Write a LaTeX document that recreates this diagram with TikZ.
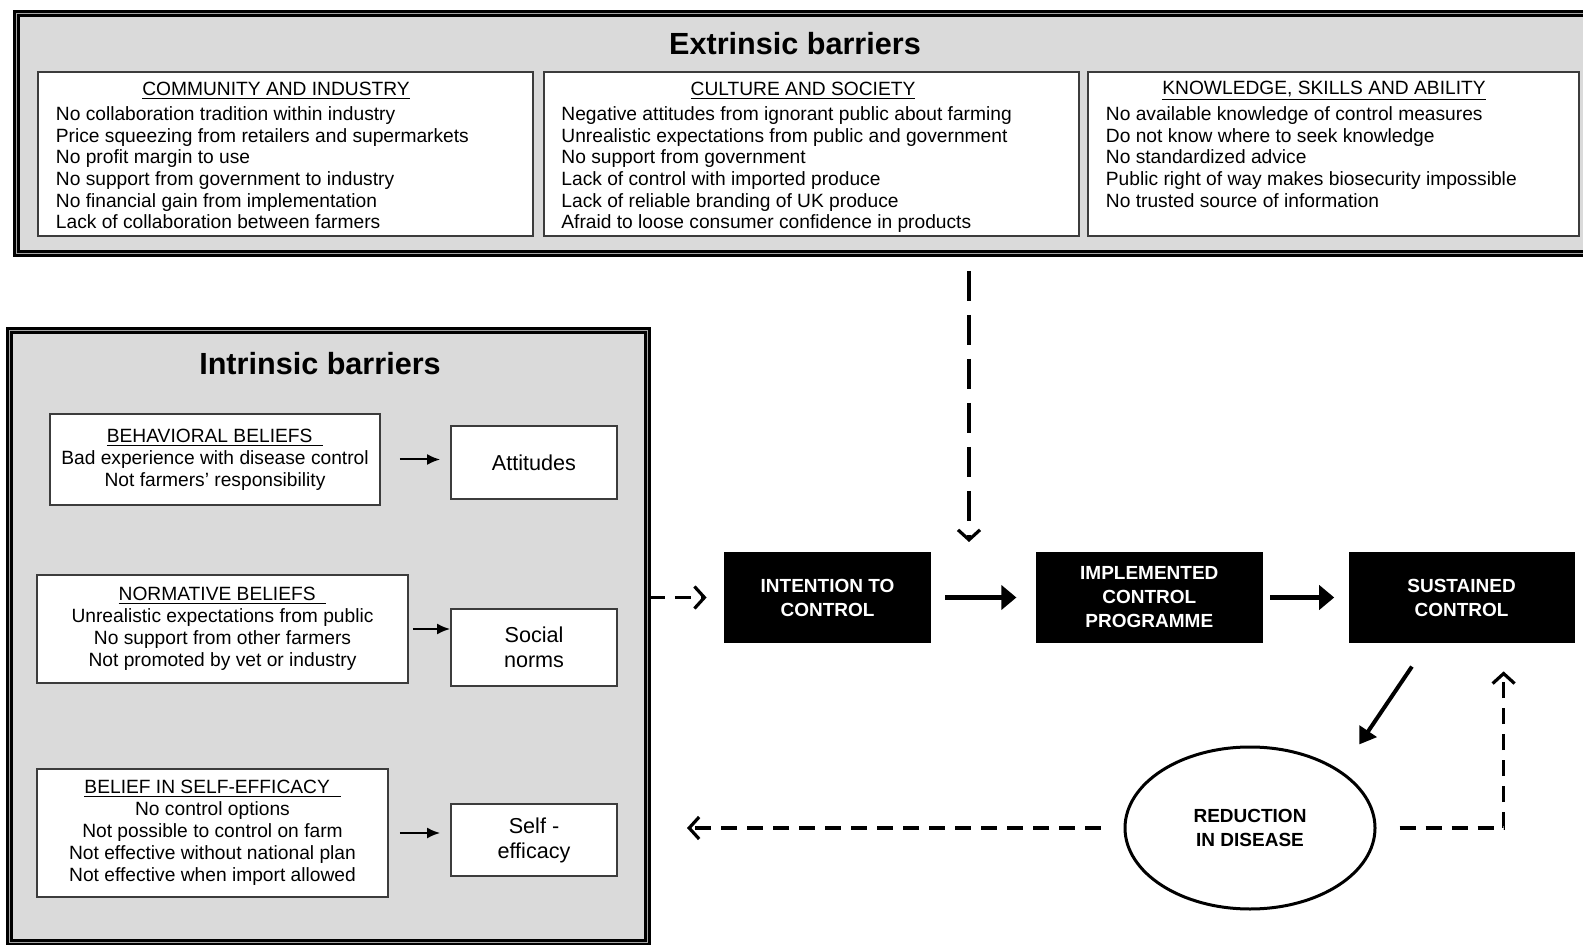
\documentclass[tikz,border=0pt]{standalone}
\usepackage{fontspec}
\setmainfont{Liberation Sans}
\usetikzlibrary{arrows.meta,positioning,shapes.geometric}
\definecolor{panelgray}{HTML}{DADADA}
\definecolor{boxline}{HTML}{3C3C3C}

\begin{document}
\begin{tikzpicture}[
  x=0.5pt, y=-0.5pt,
  panel/.style={draw=black, line width=1.4pt, double=gray!70, double distance=0.6pt, fill=panelgray, anchor=north west, inner sep=0pt},
  ttl/.style={font=\fontsize{15.3}{18}\selectfont\bfseries, inner sep=0pt},
  listbox/.style={draw=boxline, line width=0.9pt, fill=white, anchor=north west, inner sep=0pt},
  hdr/.style={font=\fontsize{9.6}{11}\selectfont, inner sep=0pt},
  listtxt/.style={font=\fontsize{9.6}{10.85}\selectfont, align=left, anchor=north west, inner sep=0pt},
  belief/.style={draw=boxline, line width=0.9pt, fill=white, align=center, font=\fontsize{9.6}{11}\selectfont, inner sep=0pt},
  result/.style={draw=boxline, line width=0.9pt, fill=white, align=center, font=\fontsize{10.8}{12.5}\selectfont, minimum width=83pt, inner sep=0pt},
  stage/.style={fill=black, text=white, align=center, font=\fontsize{9.5}{12}\selectfont\bfseries, minimum height=45.5pt, inner sep=0pt},
  smallarr/.style={line width=1pt, -{Latex[length=6.5pt,width=5.5pt]}},
  bigarr/.style={line width=2.6pt, -{Triangle[length=7.5pt,width=12pt]}},
  dasharr/.style={line width=1.7pt, dash pattern=on 8pt off 5pt, -{Straight Barb[length=5pt,width=11pt,line width=1.6pt]}}
]
\clip (0,0) rectangle (1583,945);
\fill[white] (0,0) rectangle (1583,945);

\node[panel, minimum width=800pt, minimum height=120pt] (extr) at (15,12) {};
\node[ttl] (extrttl) at (795,44) {Extrinsic barriers};

\node[listbox, minimum width=247.5pt, minimum height=82pt] (comm) at (37,71) {};
\node[hdr] (commhd) at (276,91) {\underline{COMMUNITY AND INDUSTRY}};
\node[listtxt] (commls) at (55.5,106) {No collaboration tradition within industry\\Price squeezing from retailers and supermarkets\\No profit margin to use\\No support from government to industry\\No financial gain from implementation\\Lack of collaboration between farmers};

\node[listbox, minimum width=267.5pt, minimum height=82pt] (cult) at (543,71) {};
\node[hdr] (culthd) at (803,91) {\underline{CULTURE AND SOCIETY}};
\node[listtxt] (cultls) at (561,106) {Negative attitudes from ignorant public about farming\\Unrealistic expectations from public and government\\No support from government\\Lack of control with imported produce\\Lack of reliable branding of UK produce\\Afraid to loose consumer confidence in products};

\node[listbox, minimum width=245.5pt, minimum height=82pt] (know) at (1087,71) {};
\node[hdr] (knowhd) at (1324,91) {\underline{KNOWLEDGE, SKILLS AND ABILITY}};
\node[listtxt] (knowls) at (1105.5,106) {No available knowledge of control measures\\Do not know where to seek knowledge\\No standardized advice\\Public right of way makes biosecurity impossible\\No trusted source of information};

\node[panel, minimum width=319pt, minimum height=306pt] (intr) at (8,329) {};
\node[ttl] (intrttl) at (320,364) {Intrinsic barriers};

\node[belief, minimum width=165pt, minimum height=45.5pt] (behav) at (215,459.5) {\underline{BEHAVIORAL BELIEFS\ \ }\\Bad experience with disease control\\Not farmers' responsibility};
\node[belief, minimum width=185.5pt, minimum height=54pt] (norm) at (222.5,629) {\underline{NORMATIVE BELIEFS\ \ }\\Unrealistic expectations from public\\No support from other farmers\\Not promoted by vet or industry};
\node[belief, minimum width=175.5pt, minimum height=64pt] (selfb) at (212.5,833) {\underline{BELIEF IN SELF-EFFICACY\ \ }\\No control options\\Not possible to control on farm\\Not effective without national plan\\Not effective when import allowed};

\node[result, minimum height=36.5pt] (att) at (534,462.5) {Attitudes};
\node[result, minimum height=38.5pt] (soc) at (534,647.5) {Social\\norms};
\node[result, minimum height=36pt] (self) at (534,840) {Self -\\efficacy};

\node[stage, minimum width=103.5pt] (intent) at (827.5,597.5) {INTENTION TO\\CONTROL};
\node[stage, minimum width=113.5pt, right=52pt of intent] (impl) {IMPLEMENTED\\CONTROL\\PROGRAMME};
\node[stage, minimum width=113pt, right=42.5pt of impl] (sust) {SUSTAINED\\CONTROL};

\node[draw, ellipse, line width=1.5pt, minimum width=125pt, minimum height=81pt, align=center, font=\fontsize{9.5}{12}\selectfont\bfseries, inner sep=0pt] (reduc) at (1250,828) {REDUCTION\\IN DISEASE};

\coordinate (exttip) at (969,542);
\coordinate (backtip) at (687,828);

\draw[smallarr, shorten <=9.5pt, shorten >=5pt] (behav.east) -- (behav.east -| att.west);
\draw[smallarr, shorten <=2pt] (norm.east) -- (norm.east -| soc.west);
\draw[smallarr, shorten <=5.5pt, shorten >=5pt] (selfb.east) -- (selfb.east -| self.west);
\draw[dasharr, shorten >=8.5pt] (intr.east |- intent.west) -- (intent.west);
\draw[bigarr, shorten <=7pt, shorten >=9.5pt] (intent.east) -- (impl.west);
\draw[bigarr, shorten <=3.5pt, shorten >=7pt] (impl.east) -- (sust.west);
\draw[dasharr, dash pattern=on 15pt off 7pt, shorten <=8pt] (extr.south -| exttip) -- (exttip);
\draw[line width=2pt, -{Triangle[length=8pt,width=10pt]}, shorten <=14pt, shorten >=16pt] ([xshift=-17pt]sust.south) -- (reduc.32);
\draw[dasharr, shorten <=11.5pt] (reduc.west) -- (backtip);
\draw[dasharr, shorten <=11.5pt, shorten >=14pt] (reduc.east) -| ([xshift=21pt]sust.south);
\end{tikzpicture}
\end{document}
